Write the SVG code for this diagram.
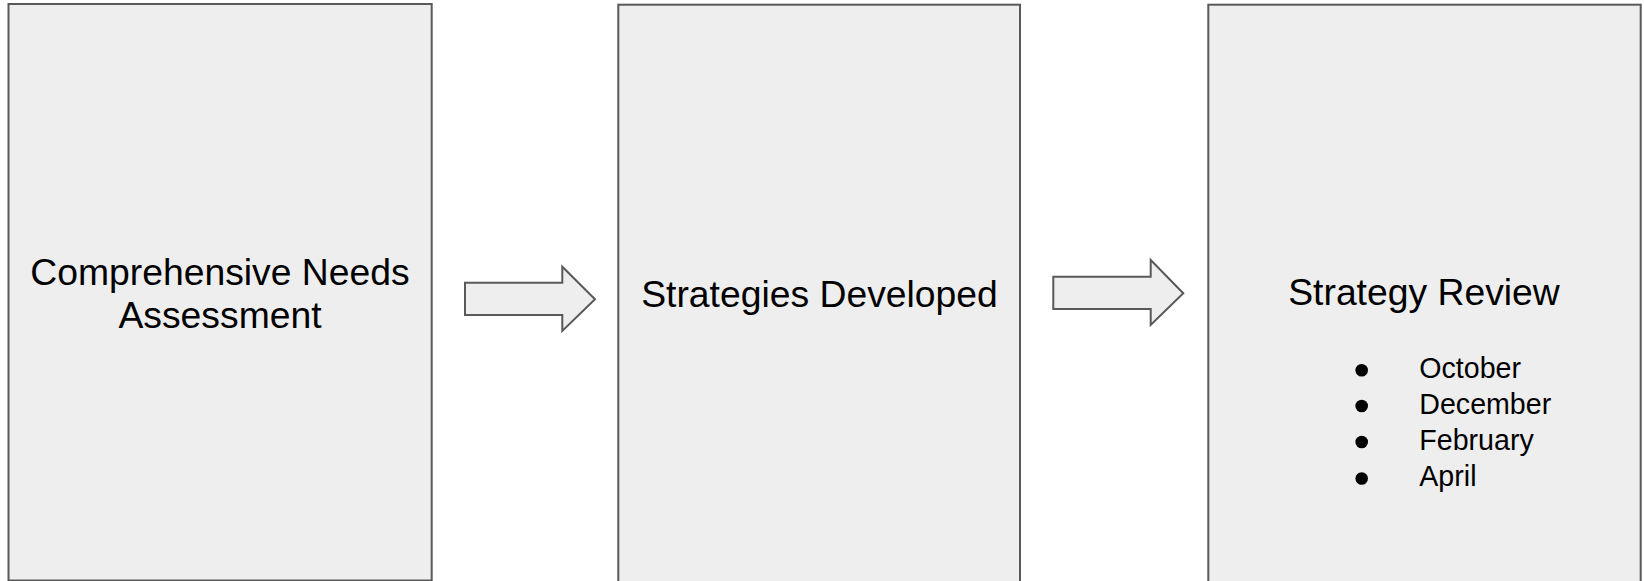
<svg xmlns="http://www.w3.org/2000/svg" width="1644" height="581" viewBox="0 0 1644 581">
<style>
.box{fill:#eeeeee;stroke:#595959;stroke-width:2}
.arrow{fill:#eeeeee;stroke:#595959;stroke-width:2;stroke-linejoin:miter}
.t{font-family:"Liberation Sans",Arial,sans-serif;font-size:37.3px;fill:#000;text-anchor:middle}
.li{font-family:"Liberation Sans",Arial,sans-serif;font-size:28.6px;fill:#000}
</style>
<rect width="1644" height="581" fill="#ffffff"/>
<g id="node-assessment">
<rect class="box" x="8.5" y="4" width="423.2" height="576.5"/>
<text class="t" x="220" y="285">Comprehensive Needs</text>
<text class="t" x="220" y="328">Assessment</text>
</g>
<g id="node-strategies">
<rect class="box" x="618.3" y="4.7" width="401.7" height="600"/>
<text class="t" x="819.5" y="307">Strategies Developed</text>
</g>
<g id="node-review">
<rect class="box" x="1208.3" y="4.7" width="432.4" height="600"/>
<text class="t" x="1424" y="305">Strategy Review</text>
<circle cx="1361.7" cy="370.3" r="6.3" fill="#000"/>
<circle cx="1361.7" cy="406" r="6.3" fill="#000"/>
<circle cx="1361.7" cy="442" r="6.3" fill="#000"/>
<circle cx="1361.7" cy="478.5" r="6.3" fill="#000"/>
<text class="li" x="1419.3" y="377.7">October</text>
<text class="li" x="1419.3" y="413.5">December</text>
<text class="li" x="1419.3" y="449.5">February</text>
<text class="li" x="1419.3" y="486">April</text>
</g>
<g id="connectors">
<polygon class="arrow" points="465,282.7 562.3,282.7 562.3,266.7 595,299.3 562.3,331 562.3,315 465,315"/>
<polygon class="arrow" points="1053.3,276.7 1150.7,276.7 1150.7,260 1183.3,293.3 1150.7,325 1150.7,309 1053.3,309"/>
</g>
</svg>
